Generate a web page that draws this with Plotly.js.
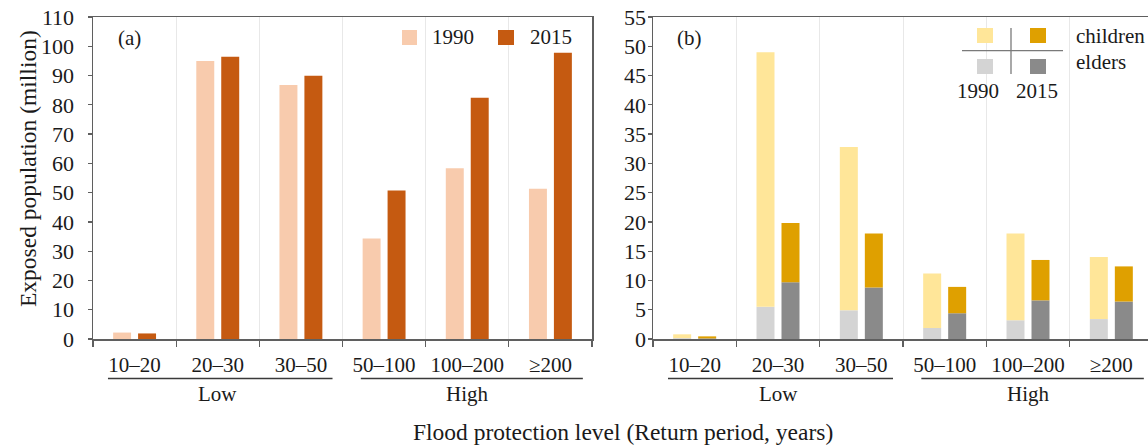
<!DOCTYPE html>
<html>
<head>
<meta charset="utf-8">
<script src="https://cdn.plot.ly/plotly-3.0.1.min.js"></script>
<style>
  html, body { margin: 0; padding: 0; background: #ffffff; }
  #chart { width: 1148px; height: 448px; }
</style>
</head>
<body>
<div id="chart"></div>
<script>
// Flood protection categories (return period, years)
const categories = ['10–20', '20–30', '30–50', '50–100', '100–200', '≥200'];
const groupLabels = ['Low', 'High'];
const years = ['1990', '2015'];
const ageGroups = ['children', 'elders'];

// (a) exposed population, million
const pop1990 = [2.2, 95.0, 86.8, 34.3, 58.3, 51.3];
const pop2015 = [1.9, 96.4, 89.9, 50.7, 82.4, 97.8];

// (b) exposed children and elders, million
const elders1990 = [0.15, 5.5, 4.9, 1.9, 3.2, 3.4];
const children1990 = [0.65, 43.5, 27.9, 9.3, 14.8, 10.6];
const elders2015 = [0.1, 9.7, 8.8, 4.4, 6.6, 6.4];
const children2015 = [0.35, 10.1, 9.2, 4.5, 6.9, 6.0];

const W = 1148, H = 448;
const px = v => v / W;
const py = v => 1 - v / H;

const FONT = '"Liberation Serif", "Times New Roman", serif';
const TEXT = '#1a1a1a';
const FRAME = '#5f5f5f';
const GRID = '#e8e8e8';

const colors = {
  pop1990: '#F8CBAD', pop2015: '#C55A11',
  child1990: '#FFE699', child2015: '#DFA000',
  elder1990: '#D4D4D4', elder2015: '#8A8A8A'
};

const traces = [
  { type: 'bar', x: categories, y: pop1990, name: years[0], marker: { color: colors.pop1990 },
    offsetgroup: 'a1', xaxis: 'x', yaxis: 'y', showlegend: false, hoverinfo: 'y' },
  { type: 'bar', x: categories, y: pop2015, name: years[1], marker: { color: colors.pop2015 },
    offsetgroup: 'a2', xaxis: 'x', yaxis: 'y', showlegend: false, hoverinfo: 'y' },

  { type: 'bar', x: categories, y: elders1990, name: years[0] + ' ' + ageGroups[1],
    marker: { color: colors.elder1990 }, offsetgroup: 'b1', xaxis: 'x2', yaxis: 'y2', showlegend: false },
  { type: 'bar', x: categories, y: children1990, base: elders1990, name: years[0] + ' ' + ageGroups[0],
    marker: { color: colors.child1990 }, offsetgroup: 'b1', xaxis: 'x2', yaxis: 'y2', showlegend: false },
  { type: 'bar', x: categories, y: elders2015, name: years[1] + ' ' + ageGroups[1],
    marker: { color: colors.elder2015 }, offsetgroup: 'b2', xaxis: 'x2', yaxis: 'y2', showlegend: false },
  { type: 'bar', x: categories, y: children2015, base: elders2015, name: years[1] + ' ' + ageGroups[0],
    marker: { color: colors.child2015 }, offsetgroup: 'b2', xaxis: 'x2', yaxis: 'y2', showlegend: false }
];

const yDomain = [py(339), py(17)];

const xCommon = {
  type: 'category', tickson: 'boundaries', ticks: 'outside', ticklen: 6, tickwidth: 1.3,
  tickcolor: FRAME, showgrid: true, gridcolor: GRID, gridwidth: 1,
  showline: true, linecolor: FRAME, linewidth: 1.5, mirror: true,
  tickfont: { family: FONT, size: 21, color: TEXT }, ticklabelstandoff: 6,
  fixedrange: true
};
const yCommon = {
  ticks: 'outside', ticklen: 4, tickwidth: 1.3, tickcolor: FRAME,
  showgrid: false, zeroline: false, showline: true, linecolor: FRAME, linewidth: 1.5,
  tickfont: { family: FONT, size: 22, color: TEXT }, domain: yDomain, fixedrange: true
};

const annotations = [];
const shapes = [];

function text(t, x, y, opts) {
  annotations.push(Object.assign({
    text: t, x: x, y: y, xref: 'paper', yref: 'paper', showarrow: false,
    xanchor: 'center', yanchor: 'middle',
    font: { family: FONT, size: 21, color: TEXT }
  }, opts || {}));
}
function rect(x0, y0, x1, y1, color) {
  shapes.push({ type: 'rect', xref: 'paper', yref: 'paper',
    x0: px(x0), x1: px(x1), y0: py(y1), y1: py(y0),
    fillcolor: color, line: { width: 0 } });
}
function line(x0, y0, x1, y1, color, w) {
  shapes.push({ type: 'line', xref: 'paper', yref: 'paper',
    x0: px(x0), x1: px(x1), y0: py(y0), y1: py(y1),
    line: { color: color, width: w } });
}

// Low / High groupings below both category axes
['x', 'x2'].forEach(ax => {
  const spans = [[-0.32, 2.38], [2.72, 5.39]];
  spans.forEach((s, i) => {
    shapes.push({ type: 'line', xref: ax, yref: 'paper', x0: s[0], x1: s[1],
      y0: py(378.5), y1: py(378.5), line: { color: '#3a3a3a', width: 1.3 } });
    annotations.push({ text: groupLabels[i], xref: ax, yref: 'paper',
      x: i === 0 ? 1 : 4, y: py(394), showarrow: false, xanchor: 'center', yanchor: 'middle',
      font: { family: FONT, size: 21, color: TEXT } });
  });
});

// Panel tags
text('(a)', px(129), py(38));
text('(b)', px(690), py(38));

// Shared titles
text('Flood protection level (Return period, years)', px(623), py(432), { font: { family: FONT, size: 23.5, color: TEXT } });
text('Exposed population (million)', px(28), py(169), { textangle: -90, font: { family: FONT, size: 23.5, color: TEXT } });

// Legend for panel (a)
rect(402, 30, 417, 45, colors.pop1990);
text(years[0], px(430), py(37), { xanchor: 'left' });
rect(498, 30, 514, 45, colors.pop2015);
text(years[1], px(528), py(37), { xanchor: 'left' });

// Legend grid for panel (b): columns = years, rows = age groups
rect(977, 28, 993, 43, colors.child1990);
rect(1030, 28, 1046, 43, colors.child2015);
rect(977, 59, 993, 74, colors.elder1990);
rect(1030, 59, 1046, 74, colors.elder2015);
line(962, 50.7, 1063, 50.7, '#7a7a7a', 1.3);
line(1011, 28, 1011, 74, '#7a7a7a', 1.3);
text(ageGroups[0], px(1074), py(36), { xanchor: 'left' });
text(ageGroups[1], px(1074), py(62), { xanchor: 'left' });
text(years[0], px(978), py(91));
text(years[1], px(1036.5), py(91));

const layout = {
  width: W, height: H,
  margin: { l: 0, r: 0, t: 0, b: 0 },
  paper_bgcolor: '#ffffff', plot_bgcolor: '#ffffff',
  barmode: 'group', bargap: 0.4, bargroupgap: 0.28,
  showlegend: false,
  font: { family: FONT, color: TEXT },
  xaxis: Object.assign({}, xCommon, { domain: [px(93), px(592)], anchor: 'y', range: [-0.5, 5.5] }),
  yaxis: Object.assign({}, yCommon, { anchor: 'x', range: [0, 110], dtick: 10, mirror: true, ticklabelstandoff: 9 }),
  xaxis2: Object.assign({}, xCommon, { domain: [px(653), 1], anchor: 'y2', range: [-0.5, 5.44] }),
  yaxis2: Object.assign({}, yCommon, { anchor: 'x2', range: [0, 55], dtick: 5, mirror: false, ticklabelstandoff: -3 }),
  annotations: annotations,
  shapes: shapes
};

Plotly.newPlot('chart', traces, layout, { displayModeBar: false, staticPlot: true });
</script>
</body>
</html>
